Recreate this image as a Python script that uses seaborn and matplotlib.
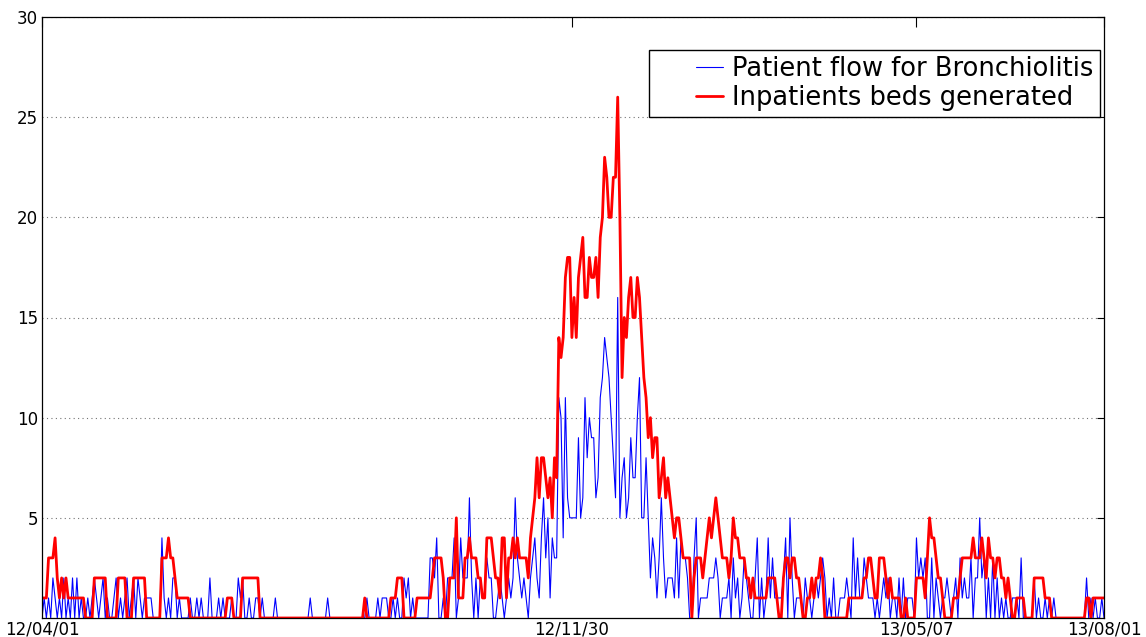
import matplotlib
matplotlib.use('Agg')
import matplotlib.pyplot as plt
import matplotlib.dates as mdates
from matplotlib.lines import Line2D
from matplotlib.legend_handler import HandlerLine2D
import seaborn as sns
import pandas as pd

start_date = '2012-04-01'
end_date = '2013-08-01'
tick_dates = ['2012-04-01', '2012-11-30', '2013-05-07', '2013-08-01']
y_ticks = [5, 10, 15, 20, 25, 30]

# daily admissions (one value per day, 12/04/01 .. 13/08/01)
patient_flow = [
    0, 1, 0, 1, 0, 2, 1, 0, 1, 0, 2, 0, 1, 0, 2, 0, 2, 0, 1, 0,
    0, 1, 0, 1, 2, 1, 0, 1, 2, 0, 1, 0, 0, 1, 2, 0, 1, 0, 1, 2,
    0, 1, 2, 0, 2, 1, 0, 1, 1, 1, 1, 0, 0, 0, 0, 4, 1, 0, 1, 0,
    2, 2, 0, 1, 0, 0, 0, 0, 1, 0, 0, 1, 0, 1, 0, 0, 0, 2, 0, 0,
    0, 1, 0, 1, 0, 0, 0, 1, 0, 0, 2, 1, 2, 0, 0, 1, 0, 0, 1, 1,
    0, 1, 0, 0, 0, 0, 0, 1, 0, 0, 0, 0, 0, 0, 0, 0, 0, 0, 0, 0,
    0, 0, 0, 1, 0, 0, 0, 0, 0, 0, 0, 1, 0, 0, 0, 0, 0, 0, 0, 0,
    0, 0, 0, 0, 0, 0, 0, 0, 0, 1, 0, 0, 0, 0, 1, 0, 1, 1, 1, 0,
    0, 1, 0, 1, 0, 0, 2, 1, 2, 0, 1, 0, 0, 0, 0, 0, 0, 0, 3, 3,
    2, 4, 0, 0, 1, 0, 2, 2, 2, 4, 0, 1, 4, 2, 2, 2, 6, 2, 0, 2,
    0, 2, 1, 1, 3, 2, 2, 0, 0, 1, 2, 1, 0, 1, 2, 1, 2, 6, 3, 2,
    1, 2, 1, 0, 2, 3, 4, 2, 1, 4, 6, 3, 5, 1, 4, 3, 3, 11, 10, 4,
    11, 6, 5, 5, 5, 5, 9, 5, 6, 11, 8, 10, 9, 9, 6, 7, 11, 12, 14, 13,
    12, 10, 8, 6, 16, 5, 7, 8, 5, 6, 9, 7, 7, 10, 12, 5, 5, 8, 5, 2,
    4, 3, 1, 3, 6, 3, 1, 2, 2, 2, 1, 4, 1, 4, 3, 3, 2, 0, 0, 3,
    5, 0, 1, 1, 1, 1, 2, 2, 2, 3, 2, 0, 1, 1, 1, 2, 0, 3, 1, 2,
    0, 1, 3, 2, 1, 0, 0, 2, 4, 0, 2, 0, 1, 4, 1, 3, 1, 1, 1, 1,
    2, 4, 0, 5, 2, 0, 1, 1, 1, 0, 2, 1, 1, 0, 1, 2, 1, 2, 3, 2,
    0, 1, 0, 2, 0, 0, 1, 1, 1, 2, 1, 0, 4, 1, 3, 1, 1, 3, 2, 1,
    1, 1, 0, 1, 0, 1, 2, 1, 2, 0, 1, 1, 0, 2, 0, 2, 0, 1, 1, 1,
    0, 4, 2, 3, 2, 3, 0, 0, 3, 0, 2, 1, 0, 1, 1, 2, 1, 0, 1, 2,
    0, 3, 1, 2, 1, 1, 3, 0, 2, 2, 5, 2, 3, 0, 2, 0, 3, 0, 2, 0,
    1, 0, 1, 0, 0, 1, 1, 1, 0, 3, 0, 0, 0, 0, 0, 2, 0, 1, 0, 0,
    1, 0, 1, 0, 1, 0, 0, 0, 0, 0, 0, 0, 0, 0, 0, 0, 0, 0, 0, 2,
    0, 1, 0, 1, 0, 0, 1, 0,
]

# beds occupied per day
inpatient_beds = [
    1, 1, 1, 3, 3, 3, 4, 2, 1, 2, 1, 2, 1, 1, 1, 1, 1, 1, 1, 1,
    0, 0, 0, 0, 2, 2, 2, 2, 2, 2, 0, 0, 0, 0, 0, 2, 2, 2, 2, 0,
    0, 0, 2, 2, 2, 2, 2, 2, 0, 0, 0, 0, 0, 0, 0, 3, 3, 3, 4, 3,
    3, 2, 1, 1, 1, 1, 1, 1, 0, 0, 0, 0, 0, 0, 0, 0, 0, 0, 0, 0,
    0, 0, 0, 0, 0, 1, 1, 1, 0, 0, 0, 0, 2, 2, 2, 2, 2, 2, 2, 2,
    0, 0, 0, 0, 0, 0, 0, 0, 0, 0, 0, 0, 0, 0, 0, 0, 0, 0, 0, 0,
    0, 0, 0, 0, 0, 0, 0, 0, 0, 0, 0, 0, 0, 0, 0, 0, 0, 0, 0, 0,
    0, 0, 0, 0, 0, 0, 0, 0, 1, 0, 0, 0, 0, 0, 0, 0, 0, 0, 0, 0,
    1, 1, 1, 2, 2, 2, 0, 0, 0, 0, 0, 0, 1, 1, 1, 1, 1, 1, 1, 2,
    3, 3, 3, 3, 2, 0, 0, 2, 2, 2, 5, 1, 1, 1, 3, 3, 4, 3, 3, 3,
    2, 2, 1, 1, 4, 4, 4, 3, 2, 2, 1, 4, 4, 1, 3, 3, 4, 3, 4, 3,
    3, 3, 3, 2, 4, 5, 6, 8, 6, 8, 8, 7, 6, 7, 5, 8, 7, 14, 13, 14,
    17, 18, 18, 14, 16, 14, 17, 18, 19, 16, 16, 18, 17, 17, 18, 16, 19, 20, 23, 22,
    20, 20, 22, 22, 26, 20, 12, 15, 14, 16, 17, 15, 15, 17, 16, 14, 12, 11, 9, 10,
    8, 9, 9, 6, 7, 8, 6, 7, 6, 5, 4, 5, 5, 4, 3, 3, 3, 3, 0, 2,
    3, 3, 3, 2, 3, 4, 5, 4, 5, 6, 5, 4, 3, 3, 3, 2, 3, 5, 4, 4,
    3, 3, 3, 2, 2, 1, 2, 1, 1, 1, 1, 1, 1, 2, 2, 2, 2, 1, 0, 0,
    2, 3, 3, 2, 3, 3, 2, 2, 1, 0, 0, 1, 1, 2, 1, 2, 2, 3, 2, 0,
    0, 0, 0, 0, 0, 0, 0, 0, 0, 0, 1, 1, 1, 1, 1, 1, 1, 2, 2, 3,
    3, 2, 1, 1, 3, 3, 3, 2, 1, 2, 1, 1, 1, 1, 0, 0, 1, 0, 0, 0,
    0, 2, 2, 2, 2, 1, 3, 5, 4, 4, 3, 2, 2, 1, 0, 0, 0, 0, 1, 1,
    1, 2, 3, 3, 3, 3, 3, 4, 3, 3, 3, 4, 3, 2, 4, 3, 3, 2, 3, 3,
    2, 2, 1, 2, 1, 0, 0, 1, 1, 1, 1, 0, 0, 0, 0, 2, 2, 2, 2, 2,
    1, 1, 1, 0, 0, 0, 0, 0, 0, 0, 0, 0, 0, 0, 0, 0, 0, 0, 0, 1,
    1, 0, 1, 1, 1, 1, 1, 1,
]

dates = pd.date_range(start_date, end_date, freq='D')
df = pd.DataFrame({'date': dates, 'flow': patient_flow, 'beds': inpatient_beds})

sns.set_style('white')
plt.rcParams['font.family'] = ['DejaVu Sans']
plt.rcParams['text.color'] = 'black'

fig = plt.figure(figsize=(11.46, 6.37), dpi=100)
ax = fig.add_axes([42 / 1146, 1 - 618 / 637, 1062 / 1146, 601 / 637])

sns.lineplot(data=df, x='date', y='flow', color='blue', linewidth=0.8,
             label='Patient flow for Bronchiolitis', ax=ax)
sns.lineplot(data=df, x='date', y='beds', color='red', linewidth=2.0,
             label='Inpatients beds generated', ax=ax)

ax.set_xlim(dates[0], dates[-1])
ax.set_ylim(0, 30)
ax.set_xticks(pd.to_datetime(tick_dates))
ax.xaxis.set_major_formatter(mdates.DateFormatter('%y/%m/%d'))
ax.set_yticks(y_ticks)
ax.set_xlabel('')
ax.set_ylabel('')

ax.yaxis.grid(True, linestyle=(0, (1, 3)), color='0.45', linewidth=0.8)
ax.xaxis.grid(False)

ax.tick_params(direction='in', top=True, right=True, labelsize=12,
               width=0.8, colors='black')
ax.tick_params(axis='y', length=5, pad=3)
ax.tick_params(axis='x', length=7, pad=2)
for s in ax.spines.values():
    s.set_color('black')
    s.set_linewidth(0.9)

handles, labels = ax.get_legend_handles_labels()
leg = ax.legend(handles, labels, loc='upper right',
                bbox_to_anchor=((1100 - 42) / 1062, (618 - 50) / 601),
                borderaxespad=0, fontsize=18.5, frameon=True, fancybox=False,
                framealpha=1, edgecolor='black', labelcolor='black',
                handlelength=2.65, handletextpad=0.35, borderpad=0.25,
                labelspacing=0.1,
                handler_map={Line2D: HandlerLine2D(xpad=1.6)})
leg.get_frame().set_linewidth(1.0)

fig.savefig('out.png', dpi=100)
